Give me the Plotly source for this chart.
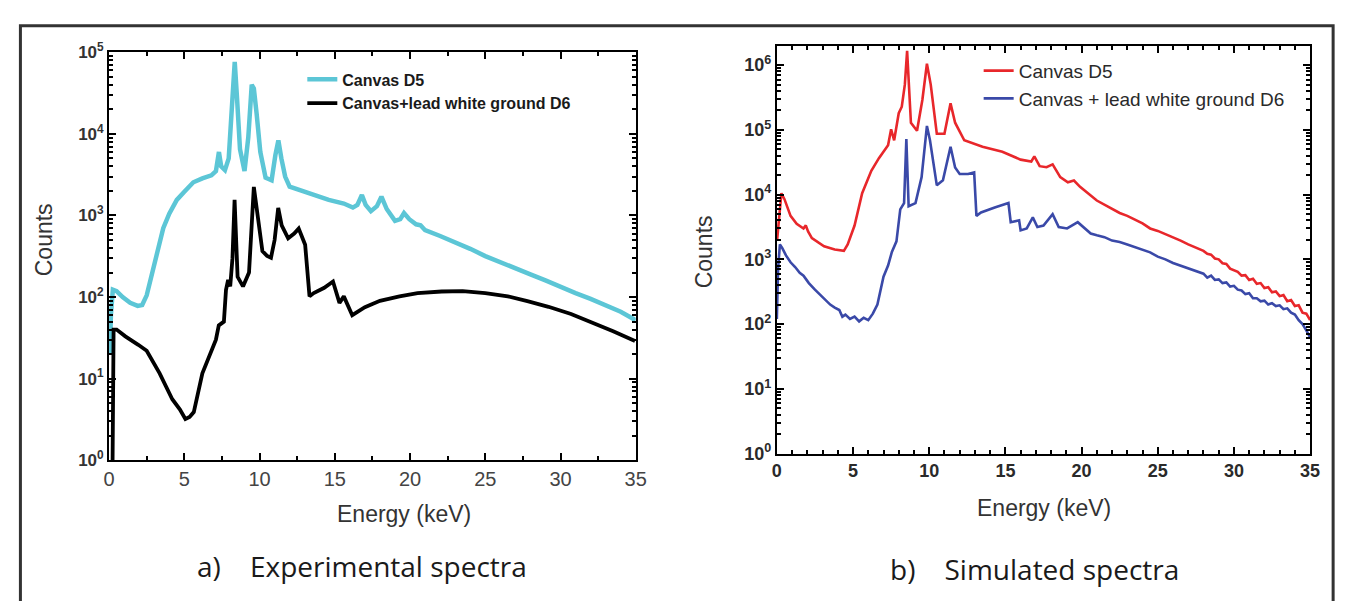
import plotly.graph_objects as go

# ---------------- data: a) experimental spectra ----------------
exp_canvas_E = [0.05, 0.12, 0.25, 0.5, 0.9, 1.4, 1.9, 2.2, 2.5, 2.8, 3.2, 3.6, 4.0, 4.5, 5.0,
                5.6, 6.2, 6.8, 7.1, 7.3, 7.45, 7.7, 7.95, 8.15, 8.35, 8.5, 8.7, 9.0, 9.25, 9.48,
                9.62, 9.8, 10.05, 10.4, 10.8, 11.05, 11.25, 11.45, 11.7, 12.0, 12.6, 13.6, 14.6,
                15.6, 16.2, 16.5, 16.8, 17.05, 17.4, 17.8, 18.1, 18.45, 19.0, 19.35, 19.6, 19.95,
                20.4, 20.7, 21.0, 22.0, 23.0, 24.0, 25.0, 26.0, 27.0, 28.0, 29.0, 30.0, 31.0,
                32.0, 33.0, 34.0, 35.0]
exp_canvas_counts = [20, 60, 123, 118, 100, 85, 78, 80, 105, 177, 380, 700, 1050, 1550, 1950,
                     2550, 2850, 3100, 3500, 6000, 4000, 3600, 5000, 16000, 76000, 28000, 6500, 3500, 9000, 40000,
                     36000, 18000, 6000, 2900, 2700, 5500, 8300, 5000, 3000, 2250, 2050, 1780, 1550,
                     1400, 1250, 1350, 1780, 1350, 1130, 1300, 1700, 1200, 860, 900, 1070, 900,
                     780, 760, 660, 560, 470, 390, 318, 265, 225, 190, 160, 132, 112,
                     95, 80, 66, 52]

exp_lead_E = [0.22, 0.3, 0.5, 1.08, 1.94, 2.5, 3.36, 4.2, 4.7, 5.07, 5.35, 5.63, 6.2, 6.77, 7.1,
              7.29, 7.63, 7.77, 7.91, 8.05, 8.2, 8.34, 8.45, 8.54, 8.9, 9.3, 9.62, 9.9, 10.19,
              10.5, 10.76, 11.0, 11.24, 11.47, 11.9, 12.3, 12.6, 13.03, 13.32, 13.6, 14.3, 14.88,
              15.31, 15.6, 16.16, 17.0, 18.0, 19.3, 20.5, 22.1, 23.5, 25.0, 26.5, 27.8, 29.2,
              30.7, 32.0, 33.5, 34.95]
exp_lead_counts = [0.5, 40, 40, 33, 26, 22, 11.6, 5.6, 4.2, 3.2, 3.4, 3.9, 11.6, 22, 30,
                   45, 50, 123, 162, 135, 300, 1550, 600, 177, 135, 200, 2240, 905, 365,
                   320, 304, 500, 1240, 755, 525, 600, 690, 437, 102, 112, 130, 155,
                   85, 102, 60, 75, 90, 102, 112, 117, 118, 112, 102, 89, 76,
                   62, 50, 38, 29]

# ---------------- data: b) simulated spectra ----------------
sim_canvas_E = [0.02, 0.3, 0.5, 0.9, 1.3, 1.75, 1.9, 2.05, 2.3, 3.1, 3.8, 4.4, 4.65, 5.1, 5.6,
                6.2, 6.7, 7.3, 7.5, 7.7, 8.0, 8.2, 8.4, 8.55, 8.8, 9.2, 9.55, 9.85, 10.1, 10.5,
                11.0, 11.4, 11.7, 12.3, 13.5, 14.8, 16.0, 16.7, 16.9, 17.25, 17.7, 18.1, 18.6,
                19.1, 19.5, 19.9, 21.0, 21.5, 22.0, 22.5, 23.0, 23.5, 24.0, 24.5, 25.0, 25.5,
                26.0, 26.5, 27.0, 27.5, 28.0, 28.25, 28.5, 28.75, 29.0, 29.25, 29.5, 29.75,
                30.0, 30.25, 30.5, 30.75, 31.0, 31.25, 31.5, 31.75, 32.0, 32.25, 32.5, 32.75,
                33.0, 33.25, 33.5, 33.75, 34.0, 34.25, 34.5, 34.75, 35.0]
sim_canvas_counts = [2000, 10500, 8500, 4700, 3550, 3000, 3350, 2700, 2130, 1590, 1420, 1350, 1700, 3330, 10500,
                     23300, 36500, 58000, 102000, 69000, 181000, 228000, 500000, 1660000, 129000, 97000, 290000, 1050000, 500000, 87000,
                     87000, 257000, 129000, 69000, 55000, 46000, 34700, 32500, 39000, 27500, 26500, 29300, 18600,
                     15500, 16500, 13200, 8100, 7000, 6000, 5200, 4700, 4100, 3600, 3000, 2750, 2450,
                     2200, 1950, 1700, 1500, 1350, 1220, 1180, 1030, 1000, 870, 850, 720,
                     680, 640, 560, 570, 480, 500, 420, 430, 360, 370, 310, 320,
                     270, 280, 225, 235, 190, 195, 150, 145, 115]

sim_lead_E = [0.0, 0.08, 0.2, 0.35, 0.6, 0.9, 1.2, 1.5, 1.75, 2.1, 2.5, 2.85, 3.2, 3.5, 3.8,
              4.1, 4.3, 4.5, 4.8, 5.1, 5.4, 5.7, 6.0, 6.3, 6.6, 7.0, 7.3, 7.55, 7.85, 8.1,
              8.35, 8.5, 8.65, 9.1, 9.5, 9.85, 10.05, 10.5, 10.9, 11.4, 11.7, 12.0, 12.55,
              12.95, 13.1, 13.4, 14.3, 15.2, 15.35, 15.9, 16.0, 16.4, 16.8, 17.1, 17.5, 18.1,
              18.5, 19.05, 19.75, 20.6, 21.0, 21.5, 22.0, 22.5, 23.0, 23.5, 24.0, 24.5, 25.0,
              25.5, 26.0, 26.5, 27.0, 27.5, 28.0, 28.25, 28.5, 28.75, 29.0, 29.25, 29.5, 29.75,
              30.0, 30.25, 30.5, 30.75, 31.0, 31.25, 31.5, 31.75, 32.0, 32.25, 32.5, 32.75,
              33.0, 33.25, 33.5, 33.75, 34.0, 34.25, 34.5, 34.75, 35.0]
sim_lead_counts = [120, 700, 1700, 1500, 1150, 900, 760, 620, 560, 430, 340, 280, 230, 200, 180,
                   165, 130, 140, 120, 130, 110, 125, 115, 145, 200, 540, 800, 1300, 1900, 5900,
                   7400, 72000, 6600, 7400, 18600, 115000, 69000, 13900, 16600, 55000, 26200, 20800, 20800,
                   22000, 4700, 5300, 6300, 7400, 3750, 4000, 2800, 3000, 4450, 3160, 3330, 5000,
                   3160, 3000, 3750, 2500, 2350, 2200, 1950, 1850, 1700, 1550, 1400, 1280, 1100,
                   1000, 880, 800, 720, 650, 600, 520, 560, 480, 490, 430, 440, 380,
                   390, 340, 330, 290, 300, 250, 250, 225, 230, 200, 210, 190,
                   195, 170, 175, 150, 140, 115, 100, 80, 62]

# ---------------- ticks / labels ----------------
x_ticks = [0, 5, 10, 15, 20, 25, 30, 35]
y_ticks_a = [1, 10, 100, 1000, 10000, 100000]
y_text_a = ["10<sup>0</sup>", "10<sup>1</sup>", "10<sup>2</sup>", "10<sup>3</sup>", "10<sup>4</sup>", "10<sup>5</sup>"]
y_ticks_b = [1, 10, 100, 1000, 10000, 100000, 1000000]
y_text_b = ["10<sup>0</sup>", "10<sup>1</sup>", "10<sup>2</sup>", "10<sup>3</sup>", "10<sup>4</sup>", "10<sup>5</sup>", "10<sup>6</sup>"]
minor_log = [m * 10 ** d for d in range(0, 7) for m in range(2, 10)]
caption_a = "a)\u00a0\u00a0\u00a0\u00a0Experimental spectra"
caption_b = "b)\u00a0\u00a0\u00a0\u00a0Simulated spectra"

W, H = 1346, 601
def px(x):
    return x / W
def py(y):
    return 1 - y / H

fig = go.Figure()

fig.add_trace(go.Scatter(x=exp_canvas_E, y=exp_canvas_counts, mode="lines", name="Canvas D5",
                         line=dict(color="#5CC6D6", width=4.5), xaxis="x", yaxis="y", legend="legend"))
fig.add_trace(go.Scatter(x=exp_lead_E, y=exp_lead_counts, mode="lines", name="Canvas+lead white ground D6",
                         line=dict(color="#000000", width=3.8), xaxis="x", yaxis="y", legend="legend"))
fig.add_trace(go.Scatter(x=sim_canvas_E, y=sim_canvas_counts, mode="lines", name="Canvas D5",
                         line=dict(color="#E8272B", width=2.6), xaxis="x2", yaxis="y2", legend="legend2"))
fig.add_trace(go.Scatter(x=sim_lead_E, y=sim_lead_counts, mode="lines", name="Canvas + lead white ground D6",
                         line=dict(color="#3A49A8", width=2.6), xaxis="x2", yaxis="y2", legend="legend2"))

frame = dict(showline=True, linecolor="black", linewidth=2, mirror="ticks", ticks="inside",
             tickcolor="black", tickwidth=2, ticklen=7, showgrid=False, zeroline=False)

xfont_a = dict(family="Liberation Sans, Arial, sans-serif", size=20, color="#444444")
yfont_a = dict(family="Liberation Sans, Arial, sans-serif", size=17, color="#333333", weight="bold")
tickfont_b = dict(family="Liberation Sans, Arial, sans-serif", size=18, color="#2a2a2a", weight="bold")

fig.update_layout(
    width=W, height=H, margin=dict(l=0, r=0, t=0, b=0),
    paper_bgcolor="white", plot_bgcolor="white",
    xaxis=dict(domain=[px(96.3), px(629.7)], range=[0, 35], tickvals=x_ticks, anchor="y",
               tickfont=xfont_a,
               minor=dict(ticks="inside", dtick=2.5, tick0=0, ticklen=4, tickwidth=2, tickcolor="black"),
               **frame),
    yaxis=dict(domain=[py(457), py(33.5)], type="log", range=[0, 5], tickvals=y_ticks_a, ticktext=y_text_a,
               anchor="x", tickfont=yfont_a,
               minor=dict(ticks="inside", tickvals=minor_log, ticklen=4, tickwidth=1.5, tickcolor="black"),
               **frame),
    xaxis2=dict(domain=[px(772.6), px(1312.7)], range=[0, 35], tickvals=x_ticks, anchor="y2",
                tickfont=tickfont_b,
                minor=dict(ticks="inside", dtick=1, tick0=0, ticklen=4, tickwidth=1.5, tickcolor="black"),
                **frame),
    yaxis2=dict(domain=[py(450), py(26.7)], type="log", range=[0, 6.3], tickvals=y_ticks_b, ticktext=y_text_b,
                anchor="x2", tickfont=tickfont_b,
                minor=dict(ticks="inside", tickvals=minor_log, ticklen=4, tickwidth=1.5, tickcolor="black"),
                **frame),
    legend=dict(x=px(292), y=py(44), xanchor="left", yanchor="top", bgcolor="rgba(0,0,0,0)",
                font=dict(family="Liberation Sans, Arial, sans-serif",
                          size=16, color="#1a1a1a", weight="bold"),
                tracegroupgap=0),
    legend2=dict(x=px(977), y=py(33), xanchor="left", yanchor="top", bgcolor="rgba(0,0,0,0)",
                 font=dict(family="Liberation Sans, Arial, sans-serif", size=19, color="#2a2a2a"),
                 tracegroupgap=0),
)

title_font = dict(family="Liberation Sans, Arial, sans-serif", size=23, color="#333333")
cap_font = dict(family="Open Sans, Lato, sans-serif", size=28, color="#1a1a1a")
annos = [
    dict(text="Energy (keV)", x=px(395), y=py(513), font=title_font),
    dict(text="Energy (keV)", x=px(1043), y=py(507), font=title_font),
    dict(text="Counts", x=px(30), y=py(228), font=title_font, textangle=-90),
    dict(text="Counts", x=px(699), y=py(241), font=title_font, textangle=-90),
    dict(text=caption_a, x=px(352), y=py(567), font=cap_font),
    dict(text=caption_b, x=px(1034), y=py(570), font=cap_font),
]
for a in annos:
    fig.add_annotation(xref="paper", yref="paper", showarrow=False, xanchor="center", yanchor="middle", **a)

# outer figure border
fig.add_shape(type="rect", xref="paper", yref="paper", x0=px(6.5), x1=px(1336), y0=py(640), y1=py(6),
              line=dict(color="#333333", width=3), fillcolor="rgba(0,0,0,0)", layer="below")

fig.write_html("out.html")
